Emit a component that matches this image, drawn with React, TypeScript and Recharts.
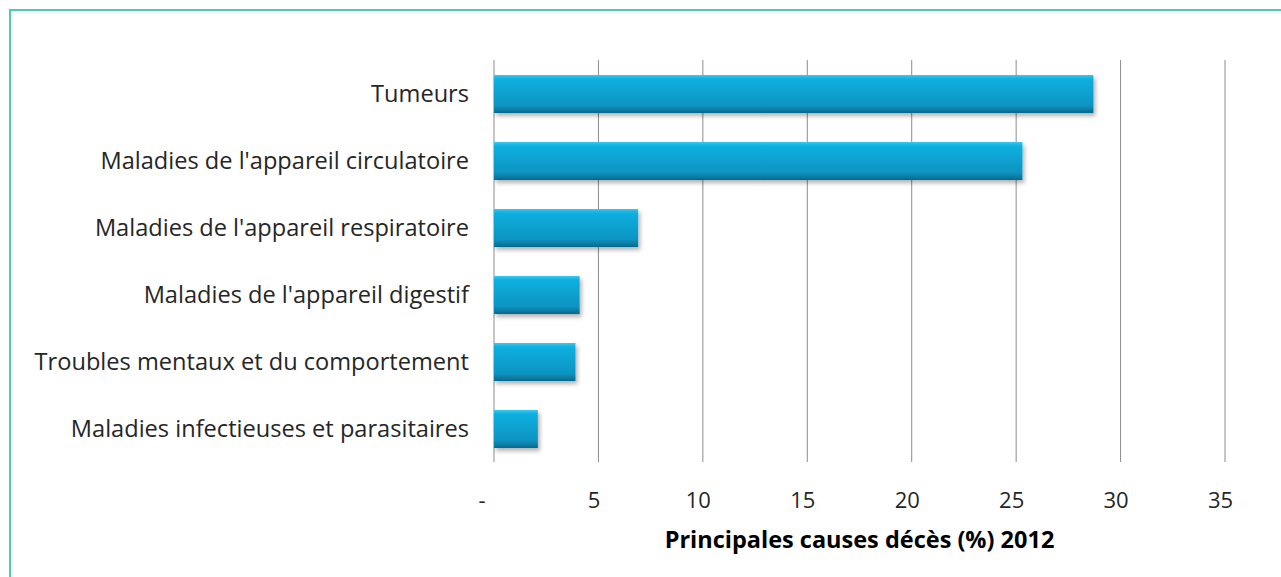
import React from 'react';
import { BarChart, Bar, XAxis, YAxis, CartesianGrid } from 'recharts';

const causes = [
  'Tumeurs',
  "Maladies de l'appareil circulatoire",
  "Maladies de l'appareil respiratoire",
  "Maladies de l'appareil digestif",
  'Troubles mentaux et du comportement',
  'Maladies infectieuses et parasitaires',
];
const percents = [28.7, 25.3, 6.9, 4.1, 3.9, 2.1];
const xTicks = [0, 5, 10, 15, 20, 25, 30, 35];

const data = causes.map((cause, i) => ({ cause, value: percents[i] }));

const XTick = (props: any) => {
  const { x, y, payload } = props;
  const isZero = payload.value === 0;
  return (
    <text
      x={x + (isZero ? -12 : -4.5)}
      y={y + 38}
      textAnchor="middle"
      fill="#262626"
      fontSize={22}
      fontFamily="Open Sans"
    >
      {isZero ? '-' : payload.value}
    </text>
  );
};

const App = () => {
  return (
    <div style={{ position: 'absolute', left: 0, top: 0, width: 1281, height: 577, overflow: 'hidden', background: '#fff' }}>
      <div
        style={{
          position: 'absolute',
          left: 9,
          top: 9,
          width: 1400,
          height: 700,
          borderTop: '2px solid #4fc9b9',
          borderLeft: '2px solid #4fc9b9',
        }}
      />
      <div style={{ position: 'absolute', left: 0, top: 0 }}>
        <BarChart
          width={1281}
          height={577}
          data={data}
          layout="vertical"
          margin={{ top: 60, right: 56, bottom: 5, left: 0 }}
          barSize={38}
        >
          <defs>
            <linearGradient id="barFill" x1="0" y1="0" x2="0" y2="1">
              <stop offset="0%" stopColor="#3cc8f0" />
              <stop offset="10%" stopColor="#0fb0e0" />
              <stop offset="80%" stopColor="#0a94c2" />
              <stop offset="100%" stopColor="#06698c" />
            </linearGradient>
            <filter id="barShadow" x="-5%" y="-20%" width="115%" height="160%">
              <feDropShadow dx="2" dy="3" stdDeviation="2" floodColor="#000" floodOpacity="0.3" />
            </filter>
          </defs>
          <CartesianGrid horizontal={false} stroke="#8c8c8c" />
          <XAxis
            type="number"
            domain={[0, 35]}
            ticks={xTicks}
            axisLine={false}
            tickLine={false}
            tick={<XTick />}
            height={110}
            label={{
              value: 'Principales causes décès (%) 2012',
              position: 'insideBottom',
              offset: 24,
              fill: '#000',
              fontSize: 23.5,
              fontWeight: 'bold',
              fontFamily: 'Open Sans',
            }}
          />
          <YAxis
            type="category"
            dataKey="cause"
            width={494}
            axisLine={false}
            tickLine={false}
            tickSize={0}
            tickMargin={25}
            interval={0}
            tick={{ fill: '#262626', fontSize: 23.6, fontFamily: 'Open Sans' }}
          />
          <Bar dataKey="value" fill="url(#barFill)" filter="url(#barShadow)" isAnimationActive={false} />
        </BarChart>
      </div>
    </div>
  );
};

export default App;
